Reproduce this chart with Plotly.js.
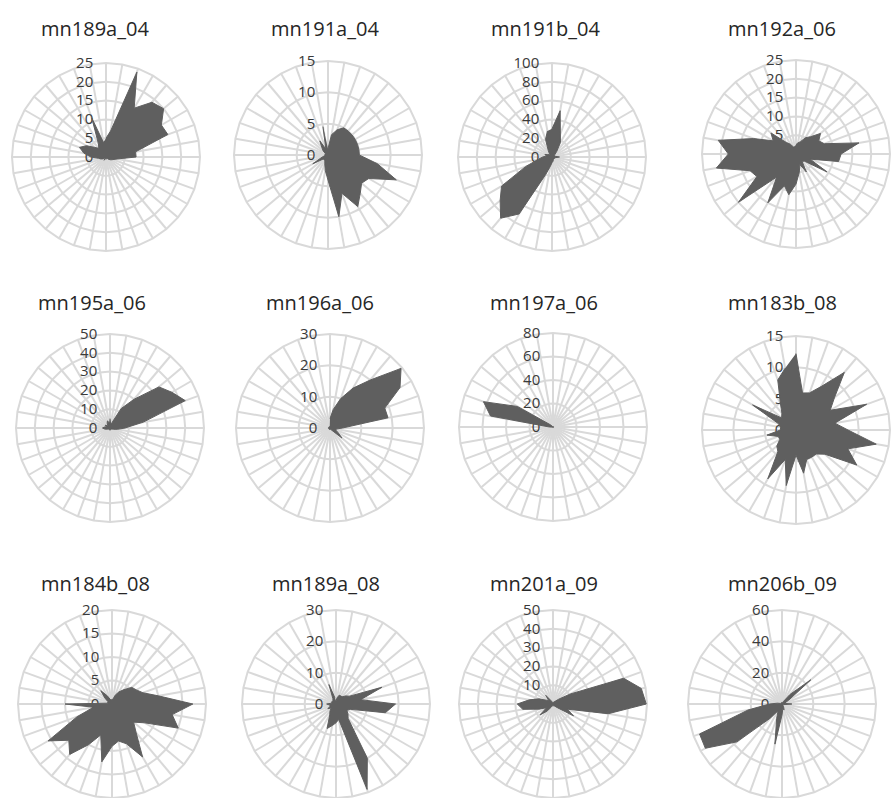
<!DOCTYPE html>
<html>
<head>
<meta charset="utf-8">
<script src="https://cdn.plot.ly/plotly-3.0.1.min.js"></script>
<style>html,body{margin:0;padding:0;background:#fff;}#chart{width:891px;height:798px;}</style>
</head>
<body>
<div id="chart"></div>
<script>
// 36 direction categories (degrees, clockwise from top)
const directions = ['0','10','20','30','40','50','60','70','80','90','100','110','120','130','140','150','160','170',
                    '180','190','200','210','220','230','240','250','260','270','280','290','300','310','320','330','340','350'];

const titles = ['mn189a_04','mn191a_04','mn191b_04','mn192a_06',
                'mn195a_06','mn196a_06','mn197a_06','mn183b_08',
                'mn184b_08','mn189a_08','mn201a_09','mn206b_09'];

const radialMax  = [25, 15, 100, 25, 50, 30, 80, 15, 20, 30, 50, 60];
const radialStep = [5, 5, 20, 5, 10, 10, 20, 5, 5, 10, 10, 20];

const mn189a_04 = [5,7,24,15,19,20,17,17.5,8,8,3,2,1.5,1,0.5,0.5,0.5,0.5,0.5,0.5,0.5,1,0.5,0.5,1,1.5,2,4,6,7.5,6,4,3,4,11,4];
const mn191a_04 = [1,3.3,4.3,5,5,5,5,5,5,5,8,11.6,7.5,7,8,9.5,6.5,10,4,2.5,1.5,1,1,1,2.8,1,0.5,0.5,0.5,0.5,0.5,1,1.5,2.6,1,4.6];
const mn191b_04 = [30,50,26,18,8,4,3,3,4,8,4,3,3,3,3,3,4,5,6,10,20,70,85,72,62,30,15,10,6,8,5,4,4,8,20,28];
const mn192a_06 = [2.5,3,3.5,5,6,8.5,7,8,17,12,11.5,4,9.5,3,2.5,5.5,3,5,8,11,9,15,8,20,12,13,21.5,18,21,12,7,8.7,4,3,2,2];
const mn195a_06 = [5,2,3,12,20,34,38,42.6,18,8,4,2,1,1,1,1,1,1,1,1,1,1,1,1,1,2,3,4,3,2,3,2,2,3,4,3];
const mn196a_06 = [3,6,10,14.7,20,29.6,25.8,18.6,18.8,4,2,2,3,5,1,0.5,0.5,0.5,0.5,0.5,0.5,0.5,0.5,0.5,0.5,0.5,0.5,0.5,0.5,0.5,0.5,0.5,0.5,0.5,0.5,0.5];
const mn197a_06 = [0.5,0.5,0.5,0.5,0.5,0.5,0.5,0.5,0.5,0.5,0.5,0.5,0.5,0.5,0.5,0.5,0.5,0.5,0.5,0.5,0.5,0.5,0.5,0.5,0.5,0.5,0.5,3,54,63,35,3,0.5,0.5,0.5,0.5];
const mn183b_08 = [12.2,6,6.3,8,12,8,6.3,12,6.3,8.3,13,8.8,11.2,6,5,5,5,7,4,9,5,9,4.5,4,3,3,4.7,2.5,2.5,3,8,3,3.5,5,8.5,10];
const mn184b_08 = [1,1,2,3,4,5.5,6,7,10,17.2,13,15,8,6,8,13,9,8,9,12.5,7,10,14,12,15.7,7.9,4,10,1,1,1,2,3.7,2,1,1];
const mn189a_08 = [1,2,3,3,3,4,5,15.6,8,19,16,5,4,5,6,20,29,5,6,7,8.3,4,3,2,3,2,2,3,1.5,1.5,1.5,1.5,1.5,2,6.6,2];
const mn201a_09 = [1,1,1,1.5,2,4,10.7,40,47.7,49.6,29.8,8,12.6,3,1.5,1,1,1,1,1,1,2,5,9,4,8,16.3,19,12.8,8,4,3,6,2,1,1];
const mn206b_09 = [1,1,1,2,8,24,5,2,2,6.3,2,1,1,1,1,2,4,3,7,26,10,5,12,37.6,56.5,56,22,8,3,1,1,1,1,1,1,1];

const series = [mn189a_04,mn191a_04,mn191b_04,mn192a_06,mn195a_06,mn196a_06,mn197a_06,mn183b_08,mn184b_08,mn189a_08,mn201a_09,mn206b_09];

// layout geometry (pixels)
const W = 891, H = 798;
const centers = [[106,157],[328,155],[552,157],[796,154],
                 [110,428],[330,428],[553,427],[796,430],
                 [112,704],[336,704],[553,704],[782,704]];
const R = 94;
const titlePos = [[95,28],[325,28],[546,28],[782,28],
                  [92,302],[320,302],[544,302],[782,302],
                  [95,583],[326,583],[544,583],[782,583]];

const grid = '#d9d9d9';
const data = [];
const layout = {
  width: W, height: H,
  margin: {l:0, r:0, t:0, b:0},
  paper_bgcolor: '#ffffff',
  showlegend: false,
  annotations: []
};

series.forEach((vals, i) => {
  const key = i === 0 ? 'polar' : 'polar' + (i + 1);
  data.push({
    type: 'scatterpolar',
    r: vals,
    theta: directions,
    subplot: key,
    mode: 'lines',
    fill: 'toself',
    fillcolor: '#5f5f5f',
    line: {color: '#5f5f5f', width: 1},
    hoverinfo: 'skip'
  });
  const [cx, cy] = centers[i];
  layout[key] = {
    domain: {x: [(cx - R) / W, (cx + R) / W], y: [Math.max(0, 1 - (cy + R) / H), Math.min(1, 1 - (cy - R) / H)]},
    bgcolor: '#ffffff',
    gridshape: 'linear',
    angularaxis: {
      type: 'category', categoryorder: 'array', categoryarray: directions,
      direction: 'clockwise', rotation: 90,
      showticklabels: false, ticks: '',
      showgrid: true, gridcolor: grid, gridwidth: 2,
      showline: true, linecolor: grid, linewidth: 2,
      layer: 'below traces'
    },
    radialaxis: {
      range: [0, radialMax[i]], tick0: 0, dtick: radialStep[i],
      angle: 90, side: 'counterclockwise', tickangle: 90,
      showline: false, showgrid: true, gridcolor: grid, gridwidth: 2,
      ticks: 'outside', ticklen: 7, tickcolor: 'rgba(0,0,0,0)',
      tickfont: {family: 'Open Sans, sans-serif', size: 15, color: '#3a3a3a'},
      layer: 'below traces'
    }
  };
  layout.annotations.push({
    text: titles[i], xref: 'paper', yref: 'paper',
    x: titlePos[i][0] / W, y: 1 - titlePos[i][1] / H,
    xanchor: 'center', yanchor: 'middle', showarrow: false,
    font: {family: 'Open Sans, sans-serif', size: 20, color: '#262626'}
  });
});

Plotly.newPlot('chart', data, layout, {staticPlot: true, displayModeBar: false});
</script>
</body>
</html>
